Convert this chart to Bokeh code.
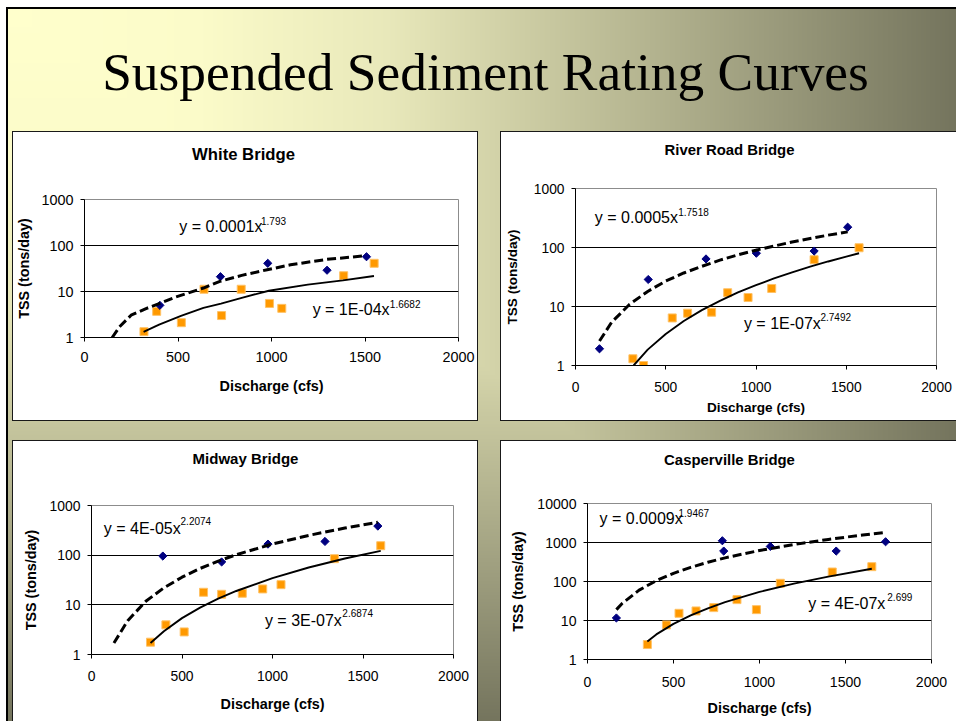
import numpy as np
import zlib, struct, base64
from bokeh.plotting import figure
from bokeh.layouts import column, row, Spacer
from bokeh.models import Range1d, FixedTicker, PrintfTickFormatter, Label
from bokeh.core.properties import value
from bokeh.embed import file_html
from bokeh.resources import INLINE

# ---------------- data ----------------
x_ticks = [0, 500, 1000, 1500, 2000]

# White Bridge
wb_blue_q = [403, 727, 980, 1297, 1508]
wb_blue_tss = [5.0, 21, 41, 29, 57]
wb_orange_q = [318, 386, 518, 639, 733, 838, 989, 1055, 1386, 1549]
wb_orange_tss = [1.34, 3.7, 2.1, 11.2, 3.0, 11.2, 5.5, 4.3, 22, 41]
wb_dash_q = [148, 187, 249, 329, 399, 488, 636, 724, 841, 977, 1102, 1293, 1505]
wb_dash_tss = [1.0, 1.7, 3.05, 4.25, 5.45, 7.6, 11.9, 16.6, 22.4, 29.7, 38, 49.8, 60]
wb_solid_q = [316, 399, 516, 636, 730, 836, 986, 1194, 1382, 1548]
wb_solid_tss = [1.33, 1.91, 2.95, 4.4, 5.45, 7.2, 10.4, 14.1, 17.5, 21.7]

# River Road Bridge
rr_blue_q = [133, 403, 723, 1002, 1322, 1508]
rr_blue_tss = [1.92, 28.7, 64, 80, 87, 221]
rr_orange_q = [318, 377, 536, 621, 754, 843, 956, 1087, 1322, 1571]
rr_orange_tss = [1.30, 1.0, 6.4, 7.7, 8.0, 17.1, 14.2, 20.2, 62, 99]
rr_dash_q = [133, 200, 300, 400, 500, 600, 700, 800, 900, 1000, 1200, 1400, 1508]
rr_dash_tss = [2.6, 5.4, 10.9, 18, 27, 37, 48, 61, 75, 90, 124, 162, 184]
rr_solid_q = [322, 400, 500, 600, 700, 800, 900, 1000, 1100, 1200, 1300, 1400, 1500, 1571]
rr_solid_tss = [1.0, 1.86, 3.43, 5.67, 8.7, 12.5, 17.3, 23, 30, 38, 47.5, 58, 70, 80]

# Midway Bridge
mw_blue_q = [394, 719, 975, 1290, 1582]
mw_blue_tss = [96, 73, 167, 189, 385]
mw_orange_q = [326, 411, 512, 619, 719, 833, 946, 1047, 1342, 1598]
mw_orange_tss = [1.77, 3.95, 2.85, 17.9, 16.3, 17.1, 20.9, 25.5, 85, 155]
mw_dash_q = [124, 200, 300, 400, 500, 600, 700, 800, 1000, 1200, 1400, 1582]
mw_dash_tss = [1.7, 4.8, 11.8, 22, 36, 54, 76, 102, 168, 250, 352, 460]
mw_solid_q = [326, 400, 500, 600, 700, 800, 1000, 1200, 1400, 1598]
mw_solid_tss = [1.7, 2.95, 5.4, 8.8, 13.3, 19, 34.6, 56.5, 85.5, 122]

# Casperville Bridge
cv_blue_q = [168, 784, 792, 1063, 1446, 1733]
cv_blue_tss = [11.6, 1109, 603, 794, 603, 1045]
cv_orange_q = [348, 459, 532, 631, 734, 869, 982, 1121, 1423, 1653]
cv_orange_tss = [2.42, 7.7, 15.3, 17.6, 21.4, 34.3, 19, 90, 175, 240]
cv_dash_q = [168, 200, 300, 400, 500, 600, 700, 800, 1000, 1200, 1400, 1600, 1733]
cv_dash_tss = [19, 27, 60, 105, 162, 231, 311, 404, 624, 888, 1199, 1557, 1818]
cv_solid_q = [348, 400, 500, 600, 700, 800, 1000, 1200, 1400, 1653]
cv_solid_tss = [2.9, 4.4, 8.2, 13.5, 20.5, 29.5, 54, 88, 133, 212]

slide_title = "Suspended Sediment Rating Curves"
chart_titles = ["White Bridge", "River Road Bridge", "Midway Bridge", "Casperville Bridge"]
FONT = "Liberation Sans"
NAVY = "#000080"
ORANGE = "#FF9900"


# ---------------- background (slide gradient, white panel boxes) ----------------
def png_data_url(img):
    h, w, _ = img.shape
    rows = img.reshape(h, w * 3).astype(np.int16)
    sub = rows.copy()
    sub[:, 3:] = (rows[:, 3:] - rows[:, :-3]) % 256
    raw = np.hstack([np.ones((h, 1), dtype=np.int16), sub]).astype(np.uint8).tobytes()

    def chunk(tag, data):
        return (struct.pack(">I", len(data)) + tag + data +
                struct.pack(">I", zlib.crc32(tag + data) & 0xFFFFFFFF))

    png = (b"\x89PNG\r\n\x1a\n" +
           chunk(b"IHDR", struct.pack(">IIBBBBB", w, h, 8, 2, 0, 0, 0)) +
           chunk(b"IDAT", zlib.compress(raw, 9)) + chunk(b"IEND", b""))
    return "data:image/png;base64," + base64.b64encode(png).decode()


W, H = 956, 721
yy, xx = np.mgrid[0:H, 0:W].astype(float)
t = np.clip(np.maximum((xx - 8) / (W - 8), (yy - 9) / (H - 9)), 0, 1)
st = [0, 0.2, 0.4, 0.6, 0.8, 1.0]
rg = np.interp(t, st, [255, 251, 232, 194, 156, 116])
bb = np.interp(t, st, [204, 201, 186, 155, 125, 93])
img = np.stack([rg, rg, bb], -1).round().astype(np.uint8)
img[:7, :] = 255
img[:, :6] = 255
img[7:9, 6:] = 0
img[7:, 6:8] = 0
dark = 25
for (x0, x1, y0, y1) in [(12, 477, 131, 420), (500, 960, 131, 420), (12, 477, 440, 800), (500, 960, 440, 800)]:
    xb = min(x1, W - 1)
    yb = min(y1, H - 1)
    img[y0:yb + 1, x0:xb + 1] = 255
    img[y0, x0:xb + 1] = dark
    if y1 < H:
        img[y1, x0:xb + 1] = dark
    img[y0:yb + 1, x0] = dark
    if x1 < W:
        img[y0:yb + 1, x1] = dark
bg_url = png_data_url(img)


def strip(height):
    f = figure(width=956, height=height, x_range=Range1d(0, 956), y_range=Range1d(height, 0),
               x_axis_type=None, y_axis_type=None, output_backend="svg", toolbar_location=None,
               min_border=0, min_border_left=0, min_border_right=0, min_border_top=0,
               min_border_bottom=0)
    f.background_fill_alpha = 0
    f.border_fill_alpha = 0
    f.outline_line_color = None
    f.grid.visible = False
    return f


# ---------------- slide title + top row chart titles ----------------
tp = strip(170)
tp.text(x=[485], y=[71], text=[slide_title], text_font=value("Liberation Serif"),
        text_font_size="53.4px", text_align="center", text_baseline="alphabetic", text_color="black")
tp.text(x=[243], y=[154], text=[chart_titles[0]], text_font=value(FONT), text_font_style="bold",
        text_font_size="16.7px", text_align="center", text_baseline="alphabetic", text_color="black")
tp.text(x=[729], y=[149], text=[chart_titles[1]], text_font=value(FONT), text_font_style="bold",
        text_font_size="14.9px", text_align="center", text_baseline="alphabetic", text_color="black")

# ---------------- bottom row chart titles ----------------
s2 = strip(58)
s2.text(x=[245], y=[35.7], text=[chart_titles[2]], text_font=value(FONT), text_font_style="bold",
        text_font_size="15px", text_align="center", text_baseline="alphabetic", text_color="black")
s2.text(x=[729], y=[37.3], text=[chart_titles[3]], text_font=value(FONT), text_font_style="bold",
        text_font_size="14.9px", text_align="center", text_baseline="alphabetic", text_color="black")


# ---------------- chart panels ----------------
def make_panel(spec):
    p = figure(width=spec["w"], height=spec["h"], x_range=Range1d(0, 2000),
               y_range=Range1d(1, spec["ymax"]), y_axis_type="log",
               output_backend="svg", toolbar_location=None,
               min_border_left=spec["ml"], min_border_right=spec["mr"],
               min_border_top=spec["mt"], min_border_bottom=spec["mb"])
    p.border_fill_alpha = 0
    p.background_fill_color = "white"
    p.outline_line_color = "#8c8c8c"
    p.outline_line_width = 1
    p.xgrid.visible = False
    p.ygrid.ticker = FixedTicker(ticks=spec["grid"])
    p.ygrid.grid_line_color = "black"
    p.ygrid.grid_line_width = 1

    xa, ya = p.xaxis[0], p.yaxis[0]
    xa.ticker = FixedTicker(ticks=x_ticks)
    ya.ticker = FixedTicker(ticks=spec["yticks"])
    ya.formatter = PrintfTickFormatter(format="%d")
    for ax in (xa, ya):
        ax.axis_line_color = "black"
        ax.major_tick_line_color = "black"
        ax.major_tick_out = 4
        ax.major_tick_in = 0
        ax.minor_tick_line_color = None
        ax.major_label_text_font = FONT
        ax.major_label_text_font_size = spec["tick_fs"]
        ax.major_label_text_color = "black"
        ax.axis_label_text_font = FONT
        ax.axis_label_text_font_style = "bold"
        ax.axis_label_text_font_size = spec["lab_fs"]
        ax.axis_label_text_color = "black"
    xa.axis_label = "Discharge (cfs)"
    ya.axis_label = "TSS (tons/day)"
    xa.major_label_standoff = spec["xls"]
    xa.axis_label_standoff = spec["xas"]
    ya.major_label_standoff = 7
    ya.axis_label_standoff = spec["yas"]

    p.scatter(spec["oq"], spec["ot"], marker="square", size=8, fill_color=ORANGE,
              line_color="#FFC266", line_width=1)
    p.scatter(spec["bq"], spec["bt"], marker="square", angle=np.pi / 4, size=5.8,
              fill_color=NAVY, line_color=NAVY, line_width=1)
    p.line(spec["dq"], spec["dt"], line_color="black", line_width=3, line_dash="9 4")
    p.line(spec["sq"], spec["st"], line_color="black", line_width=1.9)

    for (txt, lx, ly, fs) in spec["eqs"]:
        p.add_layout(Label(x=lx, y=ly, text=txt, text_font=FONT, text_font_size=fs,
                           text_align="left", text_baseline="alphabetic", text_color="black"))
    return p


p1 = make_panel(dict(
    w=464, h=215, ml=70, mr=19, mt=18, mb=57, ymax=1000,
    yticks=[1, 10, 100, 1000], grid=[10, 100], tick_fs="14.4px", lab_fs="14.4px",
    xls=10, xas=13, yas=6,
    bq=wb_blue_q, bt=wb_blue_tss, oq=wb_orange_q, ot=wb_orange_tss,
    dq=wb_dash_q, dt=wb_dash_tss, sq=wb_solid_q, st=wb_solid_tss,
    eqs=[("y = 0.0001x", 507, 260, "16px"), ("1.793", 944, 348, "10px"),
         ("y = 1E-04x", 1220, 4.12, "16px"), ("1.6682", 1633, 5.25, "10px")]))

p2 = make_panel(dict(
    w=455, h=252, ml=74, mr=20, mt=18, mb=57, ymax=1000,
    yticks=[1, 10, 100, 1000], grid=[10, 100], tick_fs="13.8px", lab_fs="13.6px",
    xls=12, xas=5, yas=11,
    bq=rr_blue_q, bt=rr_blue_tss, oq=rr_orange_q, ot=rr_orange_tss,
    dq=rr_dash_q, dt=rr_dash_tss, sq=rr_solid_q, st=rr_solid_tss,
    eqs=[("y = 0.0005x", 107, 318, "16px"), ("1.7518", 569, 406, "10px"),
         ("y = 1E-07x", 933, 5.09, "16px"), ("2.7492", 1357, 6.56, "10px")]))

p3 = make_panel(dict(
    w=464, h=234, ml=78, mr=24, mt=23, mb=62, ymax=1000,
    yticks=[1, 10, 100, 1000], grid=[10, 100], tick_fs="13.9px", lab_fs="14.4px",
    xls=12, xas=12, yas=8,
    bq=mw_blue_q, bt=mw_blue_tss, oq=mw_orange_q, ot=mw_orange_tss,
    dq=mw_dash_q, dt=mw_dash_tss, sq=mw_solid_q, st=mw_solid_tss,
    eqs=[("y = 4E-05x", 68, 351, "16px"), ("2.2074", 492, 483, "10px"),
         ("y = 3E-07x", 958, 4.89, "16px"), ("2.6874", 1386, 6.72, "10px")]))

p4 = make_panel(dict(
    w=455, h=241, ml=86, mr=25, mt=23, mb=62, ymax=10000,
    yticks=[1, 10, 100, 1000, 10000], grid=[10, 100, 1000], tick_fs="14.1px", lab_fs="14.4px",
    xls=13, xas=10, yas=8,
    bq=cv_blue_q, bt=cv_blue_tss, oq=cv_orange_q, ot=cv_orange_tss,
    dq=cv_dash_q, dt=cv_dash_tss, sq=cv_solid_q, st=cv_solid_tss,
    eqs=[("y = 0.0009x", 70, 4055, "16px"), ("1.9467", 529, 5741, "10px"),
         ("y = 4E-07x", 1284, 27.7, "16px"), ("2.699", 1743, 39.3, "10px")]))

root = column(
    tp,
    row(Spacer(width=13, height=252), column(Spacer(width=464, height=11), p1),
        Spacer(width=24, height=252), p2),
    s2,
    row(Spacer(width=13, height=241), column(Spacer(width=464, height=2), p3),
        Spacer(width=24, height=241), p4),
    width=956, height=721, spacing=0,
    styles={"background-image": f"url({bg_url})", "background-size": "956px 721px",
            "background-repeat": "no-repeat", "background-color": "white"},
)

open("out.html", "w").write(file_html(root, INLINE))
